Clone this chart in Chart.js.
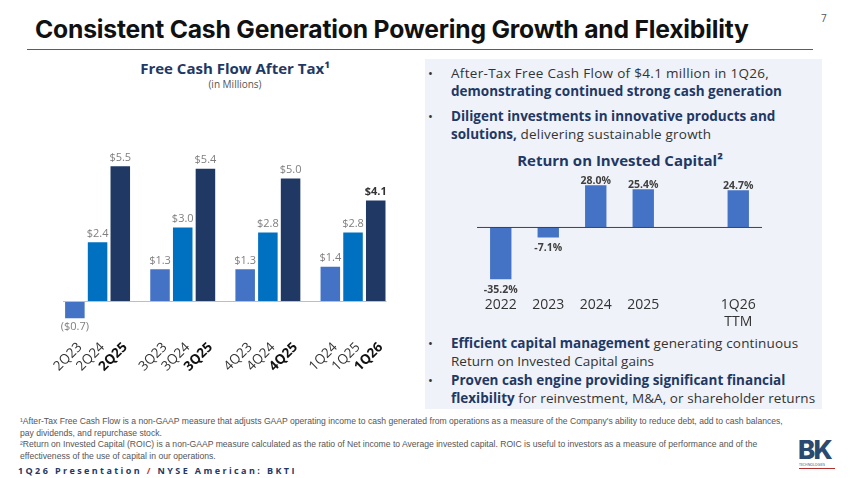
<!DOCTYPE html>
<html><head><meta charset="utf-8">
<script src="https://cdn.jsdelivr.net/npm/chart.js@4/dist/chart.umd.min.js"></script>
<style>
html,body{margin:0;padding:0;background:#fff;}
#page{position:relative;width:850px;height:478px;overflow:hidden;font-family:"Open Sans",sans-serif;}
.abs{position:absolute;white-space:nowrap;}
#title{left:35px;top:14px;font-family:Inter,sans-serif;font-weight:700;font-size:24.7px;color:#111;letter-spacing:-0.2px;}
#pnum{left:821px;top:11px;font-size:10px;color:#555;}
#rule{left:27px;top:49px;width:786px;height:1px;background:#8c4a45;}
#panel{left:425px;top:59px;width:397px;height:350px;background:#eff2f8;}
.ct{font-weight:700;color:#1f3864;font-size:15px;transform:translateX(-50%);}
.sub{font-size:10px;color:#555;transform:translateX(-50%);}
.bl{font-size:13.5px;color:#333;line-height:17.5px;}
.bl b{color:#1f3864;font-weight:700;letter-spacing:0;}
.dot{font-size:13px;color:#333;}
.fn{left:20px;font-family:"Liberation Sans",sans-serif;font-size:8.6px;color:#555;line-height:11.5px;}
#foot{left:18px;top:464px;font-size:9px;font-weight:700;color:#1f3864;letter-spacing:2.4px;}
#foot span{color:#c0392b;}
canvas{position:absolute;}
</style></head>
<body><div id="page">
<div id="title" class="abs">Consistent Cash Generation Powering Growth and Flexibility</div>
<div id="pnum" class="abs">7</div>
<div id="rule" class="abs"></div>
<div id="panel" class="abs"></div>
<div class="abs ct" style="left:235px;top:58px;">Free Cash Flow After Tax¹</div>
<div class="abs sub" style="left:235px;top:77px;">(in Millions)</div>

<div class="abs dot" style="left:428px;top:64px;">•</div>
<div class="abs bl" style="left:451px;top:65px;"><span style="letter-spacing:0.3px">After-Tax Free Cash Flow of $4.1 million in 1Q26,</span><br><b>demonstrating continued strong cash generation</b></div>
<div class="abs dot" style="left:428px;top:107px;">•</div>
<div class="abs bl" style="left:451px;top:108px;"><b>Diligent investments in innovative products and</b><br><b>solutions,</b><span style="letter-spacing:0.2px"> delivering sustainable growth</span></div>
<div class="abs ct" style="left:620px;top:150px;">Return on Invested Capital²</div>

<div class="abs dot" style="left:428px;top:334px;">•</div>
<div class="abs bl" style="left:451px;top:335px;"><b>Efficient capital management</b><span style="letter-spacing:0.15px"> generating continuous</span><br>Return on Invested Capital gains</div>
<div class="abs dot" style="left:428px;top:371px;">•</div>
<div class="abs bl" style="left:451px;top:372px;"><b>Proven cash engine providing significant financial</b><br><b>flexibility</b><span style="letter-spacing:0.08px"> for reinvestment, M&amp;A, or shareholder returns</span></div>

<div class="abs fn" style="top:416px;">¹After-Tax Free Cash Flow is a non-GAAP measure that adjusts GAAP operating income to cash generated from operations as a measure of the Company's ability to reduce debt, add to cash balances,<br>pay dividends, and repurchase stock.<br>²Return on Invested Capital (ROIC) is a non-GAAP measure calculated as the ratio of Net income to Average invested capital. ROIC is useful to investors as a measure of performance and of the<br>effectiveness of the use of capital in our operations.</div>
<div id="foot" class="abs">1Q26 Presentation <span>/</span> NYSE American: BKTI</div>
<div class="abs" style="left:798px;top:434px;font-family:Inter,sans-serif;font-weight:800;font-size:26px;color:#2b4a6f;letter-spacing:-1.8px;">BK</div>
<div class="abs" style="left:799px;top:462px;font-size:3.5px;color:#2b4a6f;">TECHNOLOGIES</div>
<div class="abs" style="left:799px;top:468px;width:36px;height:1px;background:#b03030;"></div>

<canvas id="c1" width="420" height="300" style="left:0;top:100px;"></canvas>
<canvas id="c2" width="360" height="170" style="left:440px;top:170px;"></canvas>
</div>
<script>
// ---- Free Cash Flow After Tax (in $M) ----
const fcfGroups = ['2Q', '3Q', '4Q', '1Q'];
const fcfLabelsOlder = ['2Q23', '3Q23', '4Q23', '1Q24'];
const fcfLabelsPrior = ['2Q24', '3Q24', '4Q24', '1Q25'];
const fcfLabelsCurrent = ['2Q25', '3Q25', '4Q25', '1Q26'];
const fcfOlder = [-0.7, 1.3, 1.3, 1.4];
const fcfPrior = [2.4, 3.0, 2.8, 2.8];
const fcfCurrent = [5.5, 5.4, 5.0, 4.1];

// ---- Return on Invested Capital (%) ----
const roicLabels = ['2022', '2023', '2024', '2025', '', ['1Q26', 'TTM']];
const roicValues = [-35.2, -7.1, 28.0, 25.4, null, 24.7];

Chart.defaults.font.family = '"Open Sans", sans-serif';

function money(v){ return v < 0 ? '($' + Math.abs(v).toFixed(1) + ')' : '$' + v.toFixed(1); }

const fcfPlugin = {
  id: 'fcfPlugin',
  afterDatasetsDraw(chart){
    const ctx = chart.ctx, y0 = chart.scales.y.getPixelForValue(0), a = chart.chartArea;
    ctx.save();
    ctx.strokeStyle = '#bfbfbf'; ctx.lineWidth = 1;
    ctx.beginPath(); ctx.moveTo(a.left + 8, y0 + 0.5); ctx.lineTo(a.right - 9, y0 + 0.5); ctx.stroke();
    const labelSets = [fcfLabelsOlder, fcfLabelsPrior, fcfLabelsCurrent];
    chart.data.datasets.forEach((ds, di) => {
      const meta = chart.getDatasetMeta(di);
      meta.data.forEach((bar, i) => {
        const v = ds.data[i];
        const isLast = di === 2 && i === ds.data.length - 1;
        ctx.font = (isLast ? 'bold ' : '') + '11px "Open Sans"';
        ctx.fillStyle = isLast ? '#333' : '#7f7f7f';
        ctx.textAlign = 'center';
        if (v >= 0) { ctx.textBaseline = 'bottom'; ctx.fillText(money(v), bar.x, bar.y - 3); }
        else { ctx.textBaseline = 'top'; ctx.fillText(money(v), bar.x, bar.y + 3); }
        // rotated category label, anchored below the zero line
        ctx.save();
        ctx.translate(bar.x + 5, y0 + 44);
        ctx.rotate(-Math.PI / 4);
        ctx.font = (di === 2 ? 'bold ' : '') + '13.5px "Open Sans"';
        ctx.fillStyle = di === 2 ? '#111' : '#333';
        ctx.textAlign = 'right'; ctx.textBaseline = 'middle';
        ctx.fillText(labelSets[di][i], 0, 0);
        ctx.restore();
      });
    });
    ctx.restore();
  }
};

new Chart(document.getElementById('c1'), {
  type: 'bar',
  data: {
    labels: fcfGroups,
    datasets: [
      { data: fcfOlder, backgroundColor: '#4472c4' },
      { data: fcfPrior, backgroundColor: '#0070c0' },
      { data: fcfCurrent, backgroundColor: '#1f3864' }
    ]
  },
  options: {
    responsive: false, animation: false, devicePixelRatio: 1,
    layout: { padding: { left: 55, right: 24.4, top: 54, bottom: 74.5 } },
    datasets: { bar: { categoryPercentage: 0.8, barPercentage: 0.86 } },
    plugins: { legend: { display: false }, tooltip: { enabled: false } },
    scales: {
      x: { display: false },
      y: { display: false, min: -1, max: 6 }
    }
  },
  plugins: [fcfPlugin]
});

const roicPlugin = {
  id: 'roicPlugin',
  afterDatasetsDraw(chart){
    const ctx = chart.ctx, y0 = chart.scales.y.getPixelForValue(0), a = chart.chartArea;
    ctx.save();
    ctx.strokeStyle = '#404040'; ctx.lineWidth = 1;
    ctx.beginPath(); ctx.moveTo(a.left, y0 + 0.5); ctx.lineTo(a.right, y0 + 0.5); ctx.stroke();
    const meta = chart.getDatasetMeta(0);
    ctx.font = 'bold 10.5px "Open Sans"'; ctx.fillStyle = '#404040'; ctx.textAlign = 'center';
    meta.data.forEach((bar, i) => {
      const v = roicValues[i];
      if (v === null) return;
      const t = v.toFixed(1) + '%';
      if (v >= 0) { ctx.textBaseline = 'bottom'; ctx.fillText(t, bar.x, bar.y + 1); }
      else { ctx.textBaseline = 'top'; ctx.fillText(t, bar.x, bar.y + 5); }
    });
    ctx.restore();
  }
};

new Chart(document.getElementById('c2'), {
  type: 'bar',
  data: { labels: roicLabels, datasets: [{ data: roicValues, backgroundColor: '#4472c4' }] },
  options: {
    responsive: false, animation: false, devicePixelRatio: 1,
    layout: { padding: { left: 37, right: 38, top: 9.4, bottom: 0 } },
    datasets: { bar: { categoryPercentage: 1, barPercentage: 0.45 } },
    plugins: { legend: { display: false }, tooltip: { enabled: false } },
    scales: {
      x: { grid: { display: false, drawTicks: false }, border: { display: false },
           ticks: { color: '#333', font: { size: 14 }, padding: 10, maxRotation: 0, autoSkip: false } },
      y: { display: false, min: -40, max: 32 }
    }
  },
  plugins: [roicPlugin]
});
</script>
</body></html>
